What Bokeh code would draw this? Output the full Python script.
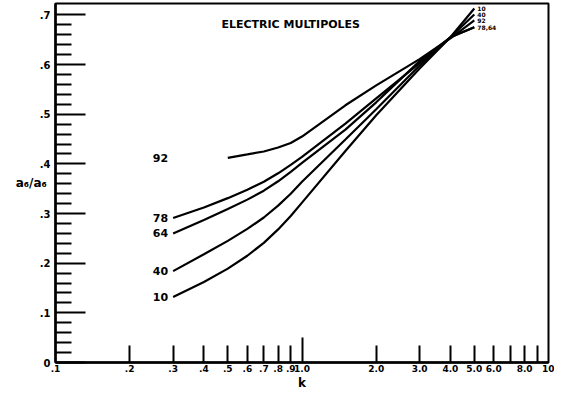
from bokeh.plotting import figure
from bokeh.models import FixedTicker, LabelSet, ColumnDataSource, Label, Range1d, LogAxis
from bokeh.core.properties import value
from bokeh.embed import file_html
from bokeh.resources import INLINE

# ---- data ----
k = [0.3, 0.4, 0.5, 0.6, 0.7, 0.8, 0.9, 1.0, 1.5, 2.0, 3.0, 4.0, 5.0]
z10 = [0.132, 0.162, 0.189, 0.215, 0.241, 0.268, 0.295, 0.322, 0.426, 0.498, 0.592, 0.655, 0.713]
z40 = [0.184, 0.218, 0.245, 0.269, 0.292, 0.316, 0.340, 0.364, 0.449, 0.510, 0.598, 0.655, 0.701]
z64 = [0.260, 0.287, 0.309, 0.328, 0.346, 0.365, 0.384, 0.402, 0.469, 0.524, 0.607, 0.655, 0.675]
z78 = [0.291, 0.312, 0.331, 0.348, 0.364, 0.381, 0.398, 0.414, 0.481, 0.532, 0.603, 0.655, 0.675]
k92 = [0.5, 0.6, 0.7, 0.8, 0.9, 1.0, 1.5, 2.0, 3.0, 4.0, 5.0]
z92 = [0.412, 0.419, 0.425, 0.433, 0.442, 0.455, 0.518, 0.558, 0.611, 0.653, 0.689]

x_tick_vals = [0.2, 0.3, 0.4, 0.5, 0.6, 0.7, 0.8, 0.9, 1.0, 2.0, 3.0, 4.0, 5.0, 6.0, 7.0, 8.0, 9.0]
x_label_vals = [0.1, 0.2, 0.3, 0.4, 0.5, 0.6, 0.7, 0.8, 0.9, 1.0,
                2.0, 3.0, 4.0, 5.0, 6.0, 7.0, 8.0, 9.0, 10.0]
x_tick_labels = [".1", ".2", ".3", ".4", ".5", ".6", ".7", ".8", ".9", "1.0",
                 "2.0", "3.0", "4.0", "5.0", "6.0", "", "8.0", "", "10"]
y_tick_vals = [0.0, 0.1, 0.2, 0.3, 0.4, 0.5, 0.6, 0.7]
y_tick_labels = ["0", ".1", ".2", ".3", ".4", ".5", ".6", ".7"]
y_minor_vals = [0.02, 0.04, 0.06, 0.08, 0.12, 0.14, 0.16, 0.18, 0.22, 0.24, 0.26, 0.28,
                0.32, 0.34, 0.36, 0.38, 0.42, 0.44, 0.46, 0.48, 0.52, 0.54, 0.56, 0.58,
                0.62, 0.64, 0.66, 0.68]

left_names = ["92", "78", "64", "40", "10"]
left_y = [z92[0], z78[0], z64[0], z40[0], z10[0]]
end_names = ["10", "40", "92", "78,64"]
end_y = [z10[-1], z40[-1], z92[-1], z64[-1]]

FONT = "DejaVu Sans"


def key(v):
    return int(v) if float(v).is_integer() else v


p = figure(width=554, height=392, x_axis_type="log",
           x_range=Range1d(0.1, 10), y_range=Range1d(0, 0.723),
           output_backend="svg", toolbar_location=None,
           min_border_left=55, min_border_right=6, min_border_top=3, min_border_bottom=26)
p.grid.visible = False
p.outline_line_color = "black"
p.outline_line_width = 2
p.outline_line_alpha = 1
p.background_fill_color = "white"
p.border_fill_color = "white"

# x axis (ticks only): long tick at 1.0, short ticks elsewhere
xa = p.xaxis[0]
xa.ticker = FixedTicker(ticks=[1.0], minor_ticks=[v for v in x_tick_vals if v != 1.0])
xa.major_label_overrides = {1: ""}
xa.major_label_text_font_size = "0px"
xa.major_label_standoff = 0
xa.major_tick_in = 25
xa.major_tick_out = 0
xa.minor_tick_in = 17
xa.minor_tick_out = 0
xa.major_tick_line_width = 2
xa.minor_tick_line_width = 2
xa.axis_line_width = 2.5

# second x axis (labels only)
xl = LogAxis(ticker=FixedTicker(ticks=x_label_vals),
             major_label_overrides={key(v): s for v, s in zip(x_label_vals, x_tick_labels)},
             major_tick_in=0, major_tick_out=0, minor_tick_in=0, minor_tick_out=0,
             axis_line_color=None, major_label_standoff=2,
             major_label_text_font=FONT, major_label_text_font_style="bold",
             major_label_text_font_size="9px", major_label_text_color="black",
             axis_label="k", axis_label_standoff=1, axis_label_text_font=FONT,
             axis_label_text_font_style="bold", axis_label_text_font_size="12px",
             axis_label_text_color="black")
p.add_layout(xl, "below")

ya = p.yaxis[0]
ya.ticker = FixedTicker(ticks=y_tick_vals, minor_ticks=y_minor_vals)
ya.major_label_overrides = {key(v): s for v, s in zip(y_tick_vals, y_tick_labels)}
ya.major_tick_in = 30
ya.major_tick_out = 0
ya.minor_tick_in = 16
ya.minor_tick_out = 0
ya.major_tick_line_width = 2
ya.minor_tick_line_width = 2
ya.axis_line_width = 2.5
ya.major_label_standoff = 5
ya.major_label_text_font = FONT
ya.major_label_text_font_style = "bold"
ya.major_label_text_font_size = "10px"
ya.major_label_text_color = "black"
ya.axis_label = "a\u2086/a\u2086"
ya.axis_label_orientation = "horizontal"
ya.axis_label_standoff = -10
ya.axis_label_text_font = FONT
ya.axis_label_text_font_style = "bold"
ya.axis_label_text_font_size = "12px"
ya.axis_label_text_color = "black"

# curves
for xs, ys in [(k, z10), (k, z40), (k, z64), (k, z78), (k92, z92)]:
    p.line(xs, ys, line_color="black", line_width=2.2)

# curve labels on the left
lsrc = ColumnDataSource(dict(x=[k[0]] * len(left_names), y=left_y, t=left_names))
p.add_layout(LabelSet(x="x", y="y", text="t", source=lsrc, text_align="right",
                      text_baseline="middle", x_offset=-5, text_font=value(FONT),
                      text_font_style="bold", text_font_size="11px", text_color="black"))

# curve labels at the right ends
esrc = ColumnDataSource(dict(x=[k[-1]] * len(end_names), y=end_y, t=end_names))
p.add_layout(LabelSet(x="x", y="y", text="t", source=esrc, text_align="left",
                      text_baseline="middle", x_offset=3, text_font=value(FONT),
                      text_font_style="bold", text_font_size="6px", text_color="black"))

# title inside the frame
p.add_layout(Label(x=0.9, y=0.68, text="ELECTRIC MULTIPOLES", text_align="center",
                   text_baseline="middle", text_font=FONT, text_font_style="bold",
                   text_font_size="11px", text_color="black"))

open("out.html", "w").write(file_html(p, INLINE))
